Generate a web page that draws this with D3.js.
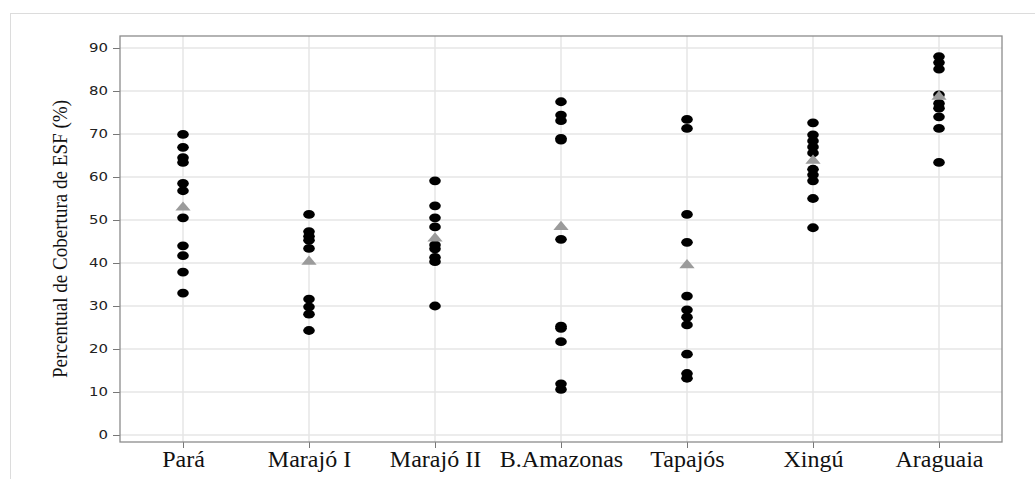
<!DOCTYPE html>
<html>
<head>
<meta charset="utf-8">
<script src="https://cdn.jsdelivr.net/npm/d3@7"></script>
<style>
  html, body { margin: 0; padding: 0; background: #fff; }
  svg { display: block; }
</style>
</head>
<body>
<script>
// Regions along the x axis
const categories = ["Pará", "Marajó I", "Marajó II", "B.Amazonas", "Tapajós", "Xingú", "Araguaia"];

// ESF coverage (%) for the municipalities of each region
const para       = [69.9, 66.9, 64.5, 63.4, 58.5, 56.8, 50.5, 44.0, 41.7, 37.9, 33.0];
const marajoI    = [51.3, 47.3, 46.2, 45.3, 43.4, 31.6, 29.8, 28.1, 24.3];
const marajoII   = [59.1, 53.3, 50.5, 48.4, 44.2, 43.3, 41.3, 40.3, 30.0];
const bAmazonas  = [77.5, 74.4, 73.1, 69.0, 68.6, 45.5, 25.3, 24.8, 21.7, 11.9, 10.6];
const tapajos    = [73.4, 71.3, 51.3, 44.8, 32.3, 29.1, 27.4, 25.6, 18.8, 14.3, 13.2];
const xingu      = [72.6, 69.8, 68.4, 67.0, 65.6, 61.8, 60.5, 59.1, 55.0, 48.2];
const araguaia   = [88.0, 86.6, 85.1, 79.1, 77.1, 76.0, 74.0, 71.3, 63.4];

// Regional means (triangles)
const means = [52.9, 40.3, 45.7, 48.4, 39.5, 63.8, 78.7];

// Y axis ticks
const yTicks = [0, 10, 20, 30, 40, 50, 60, 70, 80, 90];

const seriesByCategory = [para, marajoI, marajoII, bAmazonas, tapajos, xingu, araguaia];

const W = 1035, H = 479;
const plot = { left: 120, right: 1002, top: 36, bottom: 442 };

const svg = d3.select("body").append("svg")
  .attr("width", W).attr("height", H);

// Outer frame
svg.append("rect")
  .attr("x", 10.5).attr("y", 13.5)
  .attr("width", W).attr("height", H)
  .attr("fill", "none").attr("stroke", "#dcdcdc").attr("stroke-width", 1);

const x = d3.scalePoint()
  .domain(categories)
  .range([plot.left, plot.right])
  .padding(0.5);

const y = d3.scaleLinear()
  .domain([0, 90])
  .range([435, 48]);

// Grid lines
const grid = svg.append("g");
grid.selectAll("line.h").data(yTicks).join("line")
  .attr("x1", plot.left).attr("x2", plot.right)
  .attr("y1", d => y(d)).attr("y2", d => y(d))
  .attr("stroke", "#e6e6e6").attr("stroke-width", 1.5);
grid.selectAll("line.v").data(categories).join("line")
  .attr("x1", d => x(d)).attr("x2", d => x(d))
  .attr("y1", plot.top).attr("y2", plot.bottom)
  .attr("stroke", "#e6e6e6").attr("stroke-width", 1.5);

// Y axis
const yAxis = svg.append("g")
  .attr("transform", `translate(${plot.left},0)`)
  .call(d3.axisLeft(y).tickValues(yTicks).tickSize(7).tickPadding(5));
yAxis.select(".domain").remove();
yAxis.selectAll(".tick line").attr("stroke", "#777");
yAxis.selectAll(".tick text")
  .attr("font-family", "DejaVu Sans, sans-serif")
  .attr("font-size", 12)
  .attr("textLength", d => String(d).length * 9.5)
  .attr("lengthAdjust", "spacingAndGlyphs")
  .attr("fill", "#222");

// X axis
const xAxis = svg.append("g")
  .attr("transform", `translate(0,${plot.bottom})`)
  .call(d3.axisBottom(x).tickSize(6).tickPadding(2));
xAxis.select(".domain").remove();
xAxis.selectAll(".tick line").attr("stroke", "#777");
xAxis.selectAll(".tick text")
  .attr("font-family", "Liberation Serif, serif")
  .attr("font-size", 24)
  .attr("fill", "#111");

// Plot frame
svg.append("rect")
  .attr("x", plot.left).attr("y", plot.top)
  .attr("width", plot.right - plot.left).attr("height", plot.bottom - plot.top)
  .attr("fill", "none").attr("stroke", "#8c8c8c").attr("stroke-width", 1.3);

// Y axis title
svg.append("text")
  .attr("transform", `translate(67,${(100 + 378) / 2}) rotate(-90)`)
  .attr("text-anchor", "middle")
  .attr("font-family", "Liberation Serif, serif")
  .attr("font-size", 22)
  .attr("textLength", 278)
  .attr("lengthAdjust", "spacingAndGlyphs")
  .attr("fill", "#111")
  .text("Percentual de Cobertura de ESF (%)");

// Municipality points
const points = categories.flatMap((c, i) => seriesByCategory[i].map(v => ({ c, v })));
svg.append("g").selectAll("ellipse").data(points).join("ellipse")
  .attr("cx", d => x(d.c)).attr("cy", d => y(d.v))
  .attr("rx", 5.8).attr("ry", 4.4)
  .attr("fill", "#000");

// Mean triangles
const tri = d3.symbol().type(d3.symbolTriangle).size(60);
svg.append("g").selectAll("path").data(categories).join("path")
  .attr("d", tri)
  .attr("transform", (c, i) => `translate(${x(c)},${y(means[i])}) scale(1.3,0.9)`)
  .attr("fill", "#9b9b9b");
</script>
</body>
</html>
